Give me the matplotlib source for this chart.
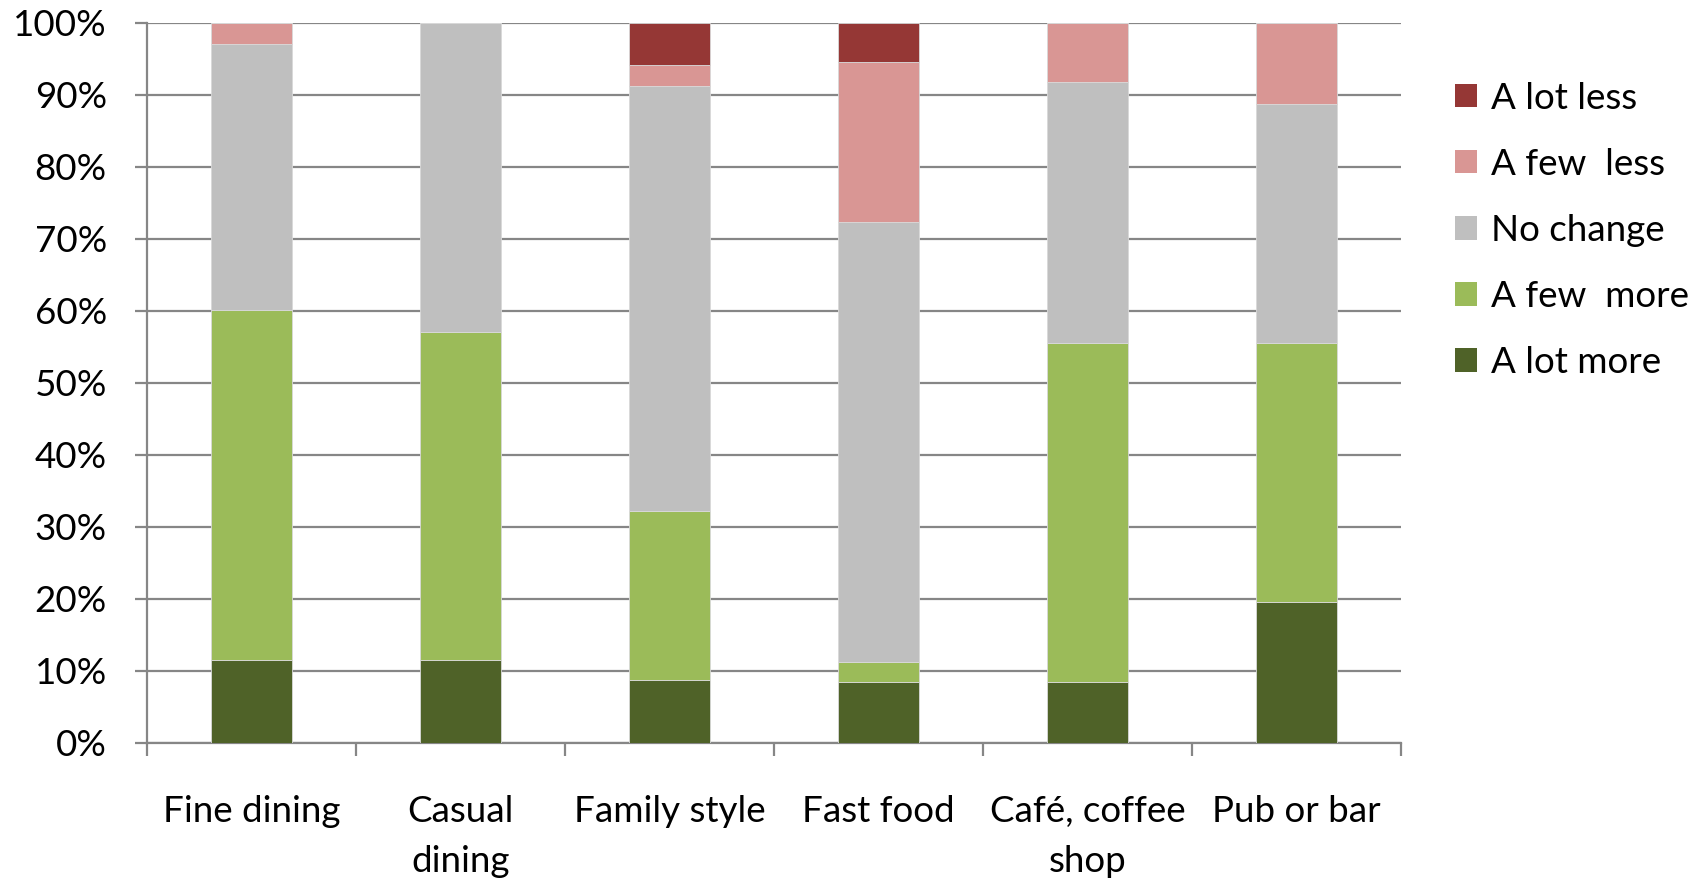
import matplotlib
matplotlib.use("Agg")
import matplotlib.pyplot as plt
from matplotlib.patches import Patch
import numpy as np

categories = ["Fine dining", "Casual\ndining", "Family style", "Fast food", "Café, coffee\nshop", "Pub or bar"]
a_lot_more = [11.5, 11.5, 8.7, 8.4, 8.4, 19.6]
a_few_more = [48.6, 45.6, 23.5, 2.8, 47.1, 35.9]
no_change = [37.0, 42.9, 59.0, 61.1, 36.3, 33.3]
a_few_less = [2.9, 0.0, 3.0, 22.2, 8.2, 11.2]
a_lot_less = [0.0, 0.0, 5.8, 5.5, 0.0, 0.0]

series_names = ["A lot more", "A few  more", "No change", "A few  less", "A lot less"]
series = [a_lot_more, a_few_more, no_change, a_few_less, a_lot_less]
colors = ["#4F6228", "#9BBB59", "#BFBFBF", "#D99694", "#953735"]

plt.rcParams['font.family'] = ['Lato', 'DejaVu Sans']
FS = 26.5

fig = plt.figure(figsize=(17.06, 8.8), dpi=100)
ax = fig.add_axes([0.0862, 0.156, 0.735, 0.818])

x = np.arange(len(categories))
bottom = np.zeros(len(categories))
for name, vals, c in zip(series_names, series, colors):
    ax.bar(x, vals, bottom=bottom, width=0.39, color=c, edgecolor='#D9D9D9', linewidth=0.6, label=name, zorder=3)
    bottom += np.array(vals)

ax.set_xlim(-0.5, len(categories) - 0.5)
ax.set_ylim(0, 100)
ax.set_yticks(np.arange(0, 101, 10))
ax.set_yticklabels([f"{v}%" for v in range(0, 101, 10)])
ax.yaxis.grid(True, color='#868686', linewidth=1.6, zorder=0)
ax.set_axisbelow(True)

ax.set_xticks(x)
ax.set_xticklabels(categories, linespacing=1.6)
ax.set_xticks(np.arange(-0.5, len(categories) + 0.5, 1), minor=True)
ax.tick_params(axis='x', which='major', length=0, pad=38, labelsize=FS)
ax.tick_params(axis='x', which='minor', length=9, width=1.6, color='#868686')
ax.tick_params(axis='y', length=9, width=1.6, color='#868686', pad=20, labelsize=FS)

for s in ['top', 'right']:
    ax.spines[s].set_visible(False)
for s in ['left', 'bottom']:
    ax.spines[s].set_color('#868686')
    ax.spines[s].set_linewidth(1.6)

handles = [Patch(facecolor=c, edgecolor='none') for c in colors][::-1]
labels = series_names[::-1]
fig.legend(handles, labels, loc='upper left', bbox_to_anchor=(0.844, 0.924),
           frameon=False, fontsize=FS, handlelength=0.6, handleheight=0.6,
           handletextpad=0.38, labelspacing=0.9, borderaxespad=0)

fig.savefig("out.png", dpi=100)
